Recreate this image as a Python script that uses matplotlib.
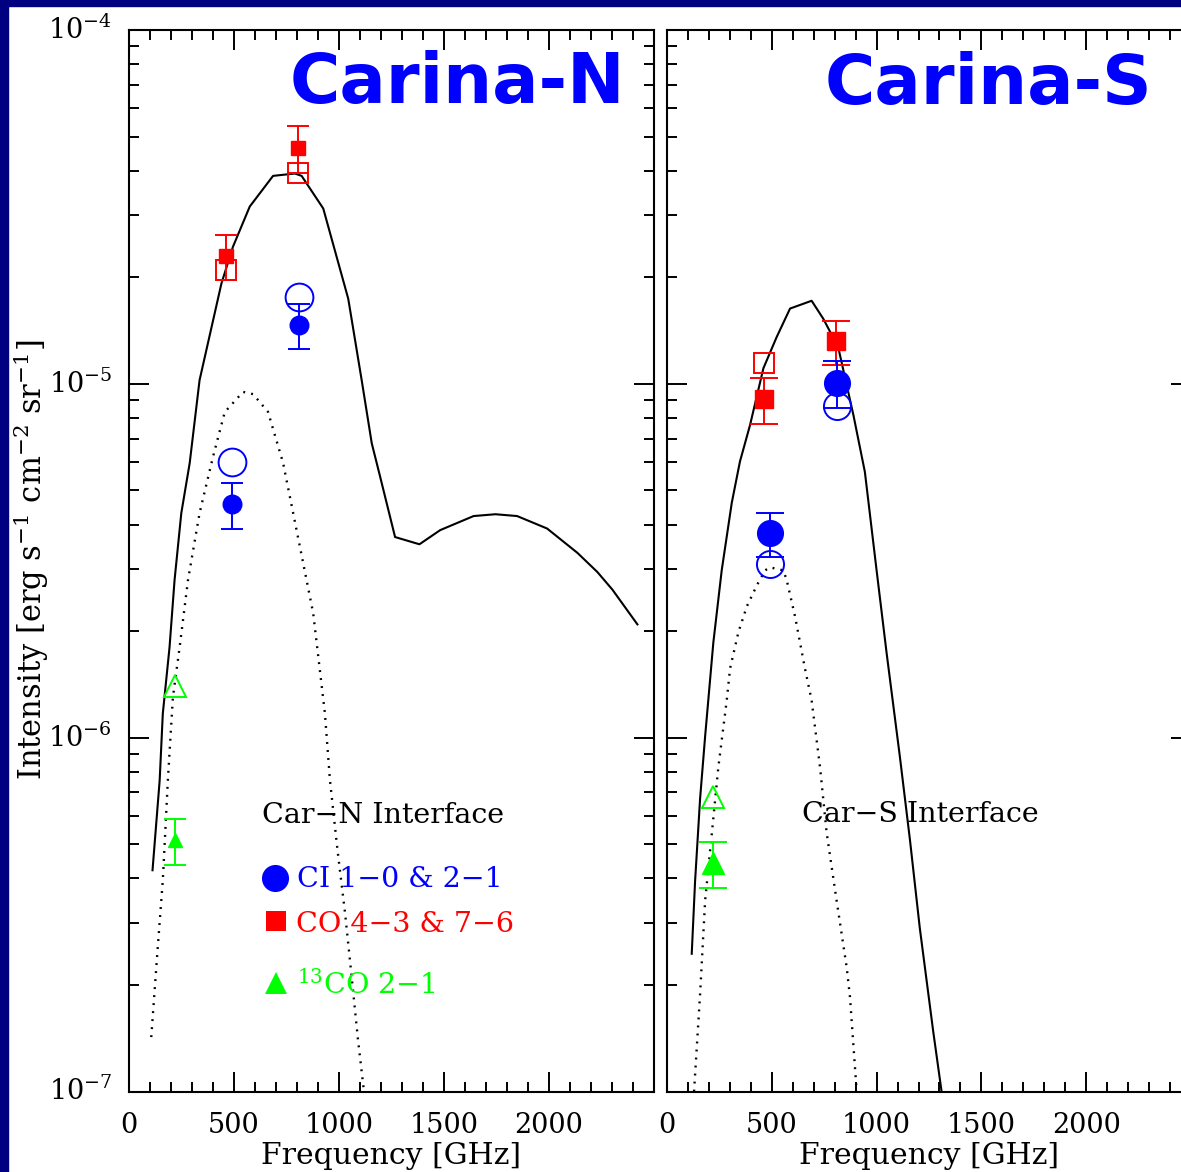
import matplotlib
matplotlib.use("Agg")
import matplotlib.pyplot as plt
import matplotlib.transforms as mtransforms
from matplotlib.patches import Rectangle
from matplotlib.ticker import MultipleLocator, FixedLocator, LogLocator, NullFormatter

# ---------------- data ----------------
# Carina-N model curves (frequency GHz, intensity erg s-1 cm-2 sr-1)
cn_total_freq = [112, 146, 161, 193, 217, 249, 289, 336, 440, 495, 575, 686, 790, 822,
                 925, 1044, 1108, 1156, 1196, 1267, 1383, 1482, 1641, 1745, 1848, 1991,
                 2135, 2230, 2302, 2421]
cn_total_int = [4.22e-7, 7.57e-7, 1.17e-6, 1.80e-6, 2.79e-6, 4.31e-6, 5.97e-6, 1.024e-5,
                1.92e-5, 2.44e-5, 3.17e-5, 3.87e-5, 3.93e-5, 3.87e-5, 3.13e-5, 1.74e-5,
                1.024e-5, 6.79e-6, 5.46e-6, 3.69e-6, 3.52e-6, 3.86e-6, 4.23e-6, 4.28e-6,
                4.23e-6, 3.90e-6, 3.33e-6, 2.94e-6, 2.62e-6, 2.09e-6]
cn_dot_freq = [106, 137, 161, 185, 209, 241, 281, 336, 400, 456, 543, 591, 662, 734,
               814, 877, 933, 957, 993, 1029, 1062, 1091, 1119]
cn_dot_int = [1.425e-7, 2.56e-7, 3.95e-7, 7.57e-7, 1.30e-6, 1.80e-6, 2.79e-6, 4.31e-6,
              6.22e-6, 8.32e-6, 9.49e-6, 9.35e-6, 8.33e-6, 5.97e-6, 3.46e-6, 2.25e-6,
              1.17e-6, 7.57e-7, 4.80e-7, 3.19e-7, 2.06e-7, 1.39e-7, 1.0e-7]

# Carina-S model curves
cs_total_freq = [118, 134, 158, 182, 221, 261, 309, 348, 396, 460, 523, 587, 690, 746,
                 817, 889, 944, 1000, 1048, 1111, 1159, 1206, 1270, 1310]
cs_total_int = [2.45e-7, 3.93e-7, 6.74e-7, 1.01e-6, 1.855e-6, 2.97e-6, 4.61e-6, 6.03e-6,
                7.64e-6, 1.107e-5, 1.355e-5, 1.632e-5, 1.717e-5, 1.526e-5, 1.268e-5,
                8.18e-6, 5.64e-6, 2.97e-6, 1.73e-6, 8.84e-7, 5.15e-7, 2.90e-7, 1.48e-7,
                1.0e-7]
cs_dot_freq = [129, 158, 182, 214, 245, 285, 301, 341, 381, 428, 468, 491, 555, 571,
               611, 658, 690, 730, 762, 809, 857, 873, 905]
cs_dot_int = [1.0e-7, 1.89e-7, 3.47e-7, 5.37e-7, 8.26e-7, 1.275e-6, 1.57e-6, 1.99e-6,
              2.35e-6, 2.69e-6, 2.97e-6, 3.03e-6, 2.97e-6, 2.79e-6, 2.20e-6, 1.57e-6,
              1.275e-6, 8.26e-7, 5.37e-7, 3.47e-7, 2.25e-7, 1.85e-7, 1.0e-7]

# line frequencies (GHz)
co_freq = [461, 806]      # CO 4-3, 7-6
ci_freq = [492, 809]      # CI 1-0, 2-1
c13_freq = [220]          # 13CO 2-1

# Carina-N observations
cn_co_fill = [2.30e-5, 4.64e-5]
cn_co_fill_err = [0.34e-5, 0.70e-5]
cn_co_open = [2.10e-5, 3.94e-5]
cn_ci_fill = [4.57e-6, 1.466e-5]
cn_ci_fill_err = [0.68e-6, 0.21e-5]
cn_ci_open = [6.02e-6, 1.76e-5]
cn_13_fill = [5.13e-7]
cn_13_fill_err = [0.76e-7]
cn_13_open = [1.40e-6]

# Carina-S observations
cs_co_fill = [9.05e-6, 1.32e-5]
cs_co_fill_err = [1.35e-6, 0.19e-5]
cs_co_open = [1.147e-5]
cs_ci_fill = [3.78e-6, 1.007e-5]
cs_ci_fill_err = [0.54e-6, 0.154e-5]
cs_ci_open = [3.09e-6, 8.65e-6]
cs_13_fill = [4.41e-7]
cs_13_fill_err = [0.65e-7]
cs_13_open = [6.80e-7]

x_major = [0, 500, 1000, 1500, 2000]
x_labels = ["0", "500", "1000", "1500", "2000"]
y_decades = [-4, -5, -6, -7]

# ---------------- style ----------------
SERIF = "DejaVu Serif"
plt.rcParams["font.family"] = [SERIF, "DejaVu Sans"]
plt.rcParams["mathtext.fontset"] = "dejavuserif"

RED, BLUE, GREEN = "#ff0000", "#0000ff", "#00ff00"
W, H, DPI = 1181, 1172, 100
fig = plt.figure(figsize=(W / DPI, H / DPI), dpi=DPI, facecolor="white")

# navy frame
fig.patches.append(Rectangle((0, 0), 8 / W, 1, transform=fig.transFigure,
                             color="#000080", zorder=0))
fig.patches.append(Rectangle((0, 1 - 6 / H), 1, 6 / H, transform=fig.transFigure,
                             color="#000080", zorder=0))

top_px, bot_px = 30, 1091.5
ax_b = (H - bot_px) / H
ax_h = (bot_px - top_px) / H
ax1 = fig.add_axes([129 / W, ax_b, (654 - 129) / W, ax_h])
ax2 = fig.add_axes([667 / W, ax_b, 524 / W, ax_h])

FS = 19.5      # tick labels
FS_T = 20.5    # annotations
FS_L = 21.5    # axis labels


def style_axis(ax, ylabels):
    ax.set_yscale("log")
    ax.set_xlim(0, 2500)
    ax.set_ylim(1e-7, 1e-4)
    ax.xaxis.set_major_locator(FixedLocator(x_major + [2500]))
    ax.xaxis.set_minor_locator(MultipleLocator(100))
    ax.set_xticklabels([])
    ax.yaxis.set_major_locator(LogLocator(base=10, numticks=10))
    ax.yaxis.set_minor_locator(LogLocator(base=10, subs=range(2, 10), numticks=20))
    ax.yaxis.set_major_formatter(NullFormatter())
    ax.yaxis.set_minor_formatter(NullFormatter())
    ax.tick_params(which="both", direction="in", top=True, right=True,
                   width=1.4, color="black")
    ax.tick_params(which="major", length=14.4)
    ax.tick_params(which="minor", length=7.2)
    for s in ax.spines.values():
        s.set_linewidth(1.5)
    # x tick labels
    xt = ax.get_xaxis_transform()
    for v, lab in zip(x_major, x_labels):
        ax.text(v, -0.0393, lab, transform=xt, ha="center", va="baseline",
                fontsize=FS, color="black", clip_on=False)
    ax.text(0.5, -0.0683, "Frequency [GHz]", transform=ax.transAxes,
            ha="center", va="baseline", fontsize=FS_L, clip_on=False)
    if ylabels:
        off = mtransforms.ScaledTranslation(-17 / DPI, -9 / DPI, fig.dpi_scale_trans)
        yt = ax.get_yaxis_transform() + off
        for e in y_decades:
            ax.text(0, 10.0 ** e, r"$10^{%d}$" % e, transform=yt, ha="right",
                    va="baseline", fontsize=FS, clip_on=False)


style_axis(ax1, True)
style_axis(ax2, False)

fig.text(31 / W, 1 - 560 / H,
         r"Intensity [erg s$^{-1}$ cm$^{-2}$ sr$^{-1}$]",
         rotation=90, ha="center", va="center", fontsize=22)


def draw_panel(ax, tf, ti, df, di, cof, coe, coo, cif, cie, cio, c13f, c13e, c13o,
               sz):
    ax.plot(tf, ti, color="black", lw=1.5, zorder=2)
    ax.plot(df, di, color="black", lw=1.7, linestyle=(0, (0.8, 2.6)), zorder=2)
    ek = dict(elinewidth=1.4, capthick=1.4, capsize=sz["cap"], linestyle="none",
              zorder=3)
    # open markers
    ax.plot(co_freq[:len(coo)], coo, "s", ms=sz["so"], mfc="none", mec=RED,
            mew=1.4, zorder=3)
    ax.plot(ci_freq, cio, "o", ms=sz["oo"], mfc="none", mec=BLUE, mew=1.4, zorder=3)
    ax.plot(c13_freq, c13o, "^", ms=sz["to"], mfc="none", mec=GREEN, mew=1.4,
            zorder=3)
    # filled markers with errors
    ax.errorbar(co_freq, cof, yerr=coe, fmt="s", ms=sz["sf"], color=RED, **ek)
    ax.errorbar(ci_freq, cif, yerr=cie, fmt="o", ms=sz["of"], color=BLUE, **ek)
    ax.errorbar(c13_freq, c13f, yerr=c13e, fmt="^", ms=sz["tf"], color=GREEN, **ek)


draw_panel(ax1, cn_total_freq, cn_total_int, cn_dot_freq, cn_dot_int,
           cn_co_fill, cn_co_fill_err, cn_co_open, cn_ci_fill, cn_ci_fill_err,
           cn_ci_open, cn_13_fill, cn_13_fill_err, cn_13_open,
           dict(cap=7.9, so=15, oo=20, to=16, sf=9.8, of=13.4, tf=10))
draw_panel(ax2, cs_total_freq, cs_total_int, cs_dot_freq, cs_dot_int,
           cs_co_fill, cs_co_fill_err, cs_co_open, cs_ci_fill, cs_ci_fill_err,
           cs_ci_open, cs_13_fill, cs_13_fill_err, cs_13_open,
           dict(cap=10, so=15, oo=19.5, to=16, sf=13.4, of=18.5, tf=15.5))

# titles
title_kw = dict(fontsize=49.5, fontweight="bold", color=BLUE,
                family="DejaVu Sans", ha="left", va="baseline")
ax1.text(0.3067, 0.9312, "Carina-N", transform=ax1.transAxes, **title_kw)
ax2.text(0.3015, 0.9302, "Carina-S", transform=ax2.transAxes, **title_kw)

# annotations / legend
ax1.text(0.2533, 0.2529, "Car\u2212N Interface", transform=ax1.transAxes,
         fontsize=FS_T, ha="left", va="baseline")
ax2.text(0.2576, 0.2542, "Car\u2212S Interface", transform=ax2.transAxes,
         fontsize=FS_T, ha="left", va="baseline")

ax1.plot([0.2781], [0.2011], "o", ms=19.5, color=BLUE, mew=0,
         transform=ax1.transAxes, clip_on=False)
ax1.plot([0.2800], [0.1606], "s", ms=14.4, color=RED, mew=0,
         transform=ax1.transAxes, clip_on=False)
ax1.plot([0.2800], [0.1022], "^", ms=16.5, color=GREEN, mew=0,
         transform=ax1.transAxes, clip_on=False)
ax1.text(0.3194, 0.1924, "CI 1\u22120 & 2\u22121", transform=ax1.transAxes,
         fontsize=FS_T, color=BLUE, ha="left", va="baseline")
ax1.text(0.3181, 0.1505, "CO 4\u22123 & 7\u22126", transform=ax1.transAxes,
         fontsize=FS_T, color=RED, ha="left", va="baseline")
ax1.text(0.3194, 0.0925, "$^{13}$CO 2\u22121",
         transform=ax1.transAxes, fontsize=FS_T, color=GREEN, ha="left",
         va="baseline")

fig.savefig("out.png", dpi=DPI, facecolor="white")
